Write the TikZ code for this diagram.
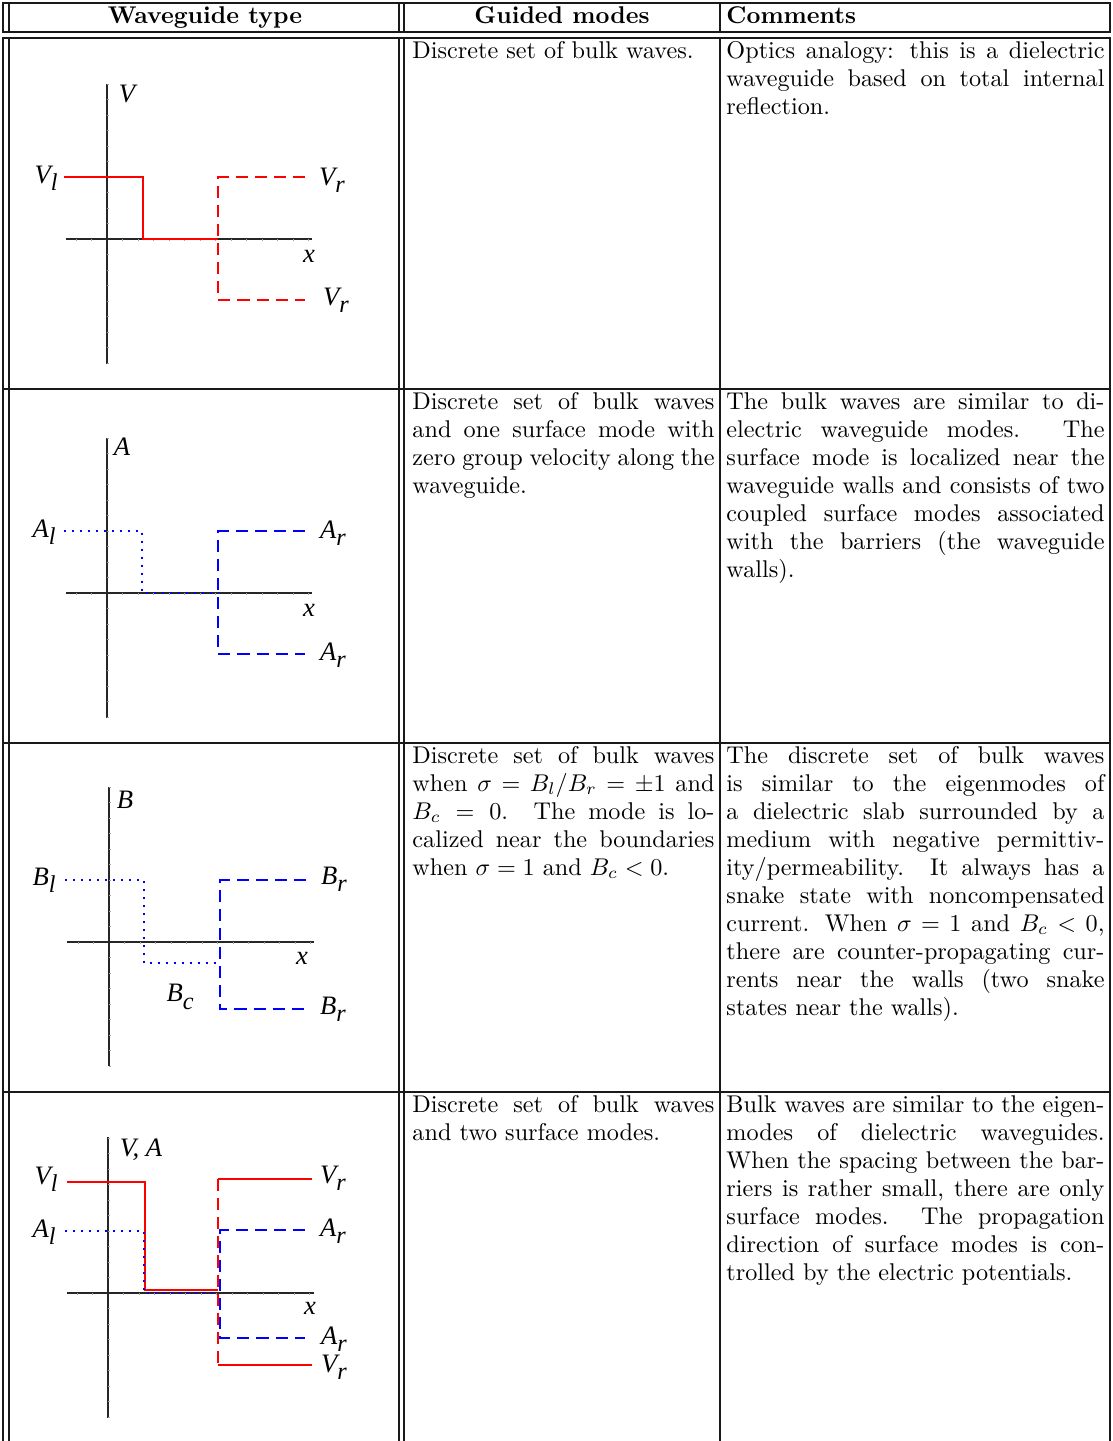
\documentclass[tikz,border=0pt]{standalone}
\usepackage{fontspec}
\newfontfamily\labfont{Liberation Serif}
\newcommand\labm[1]{{\labfont\itshape\fontsize{11}{12}\selectfont #1}}
\newcommand\lab[2]{\labm{#1}\raisebox{-3pt}{\labfont\itshape\fontsize{10}{11}\selectfont #2}}
\newcommand\axes[6]{%
  \draw[axis] (#1,#2) -- (#1,#3);
  \draw[axis] (#5,#4) -- (#6,#4);
  \foreach \k in {-10,...,-1,1,2,...,8} \draw[tickmk] (#1,{#4+15.5*\k}) -- ++(2,0);
  \foreach \k in {-2,-1,1,2,...,13} \draw[tickmk] ({#1+15.5*\k},#4) -- ++(0,2);
}
\newcommand\jpar[7]{%
  \foreach \t [count=\i] in {#5}{%
    \node[txt] (#1-\i) at (#2,{#3+28*(\i-1)}) {\makebox[#4][s]{\t}};
  }%
  \node[txt] (#1-last) at (#2,{#3+28*#6}) {#7};
}
\begin{document}
\begin{tikzpicture}[x=0.41322pt, y=-0.41322pt,
  rule/.style={line width=0.8pt, black!90, line cap=rect},
  rowrule/.style={line width=1.1pt, black!90, line cap=rect},
  axis/.style={line width=0.45pt, black!85},
  tickmk/.style={line width=0.25pt, black!35},
  solidred/.style={line width=1.1pt, red},
  dashred/.style={line width=1.1pt, red, dash pattern=on 5pt off 2.9pt},
  dashblue/.style={line width=1pt, blue, dash pattern=on 5pt off 2.9pt},
  dotblue/.style={line width=1pt, blue, dash pattern=on 0.9pt off 2.4pt},
  txt/.style={anchor=base west, inner sep=0pt, font=\fontsize{10}{11.57}\selectfont},
  hdr/.style={anchor=base, inner sep=0pt, font=\bfseries},
  lbl/.style={inner sep=0pt},
]
\useasboundingbox (0,0) rectangle (1112,1441);

% ---------- table rules ----------
\draw[rule] (3,3) -- (1110,3);
\draw[rule] (3,32) -- (1110,32);
\draw[rule] (3,38) -- (1110,38);
\foreach \yy in {389,743,1092} \draw[rowrule] (3,\yy) -- (1110,\yy);
\foreach \xx in {3,9,399,404,720,1110} {
  \draw[rule] (\xx,3) -- (\xx,32);
  \draw[rule] (\xx,38) -- (\xx,1441);
}

% ---------- header ----------
\node[hdr] (h1) at (205,23) {Waveguide type};
\node[hdr] (h2) at (562,23) {Guided modes};
\node[hdr, anchor=base west] (h3) at (726,23) {Comments};

% ---------- plot 1 ----------
\axes{107}{84}{364}{239}{66}{312}
\draw[solidred] (64,177) -- (143,177) -- (143,239) -- (218,239);
\draw[dashred] (305,177) -- (218,177) -- (218,300) -- (305,300);
\node[lbl] (p1V) at (127,94) {\labm{V}};
\node[lbl] (p1Vl) at (46,178) {\lab{V}{l}};
\node[lbl] (p1Vr1) at (332,180) {\lab{V}{r}};
\node[lbl] (p1x) at (309,256) {\labm{x}};
\node[lbl] (p1Vr2) at (336,300) {\lab{V}{r}};

% ---------- plot 2 ----------
\axes{107}{438}{718}{593}{66}{312}
\draw[dotblue] (64,531) -- (142,531) -- (142,593) -- (218,593);
\draw[dashblue] (305,531) -- (218,531) -- (218,654) -- (305,654);
\node[lbl] (p2A) at (122,447) {\labm{A}};
\node[lbl] (p2Al) at (44,532) {\lab{A}{l}};
\node[lbl] (p2Ar1) at (333,533) {\lab{A}{r}};
\node[lbl] (p2x) at (309,610) {\labm{x}};
\node[lbl] (p2Ar2) at (333,655) {\lab{A}{r}};

% ---------- plot 3 ----------
\axes{109}{787}{1066}{942}{67}{314}
\draw[dotblue] (65,880) -- (144,880) -- (144,963) -- (220,963);
\draw[dashblue] (306,880) -- (220,880) -- (220,1009) -- (306,1009);
\node[lbl] (p3B) at (125,800) {\labm{B}};
\node[lbl] (p3Bl) at (44,880) {\lab{B}{l}};
\node[lbl] (p3Br1) at (334,879) {\lab{B}{r}};
\node[lbl] (p3x) at (302,958) {\labm{x}};
\node[lbl] (p3Bc) at (180,997) {\lab{B}{c}};
\node[lbl] (p3Br2) at (333,1009) {\lab{B}{r}};

% ---------- plot 4 ----------
\axes{108}{1137}{1418}{1293}{67}{314}
\draw[solidred] (67,1182) -- (145,1182) -- (145,1290) -- (218,1290);
\draw[dashred] (218,1179) -- (218,1365);
\draw[solidred] (218,1179) -- (312,1179);
\draw[solidred] (218,1365) -- (312,1365);
\draw[dotblue] (65,1231) -- (144,1231) -- (144,1293) -- (218,1293);
\draw[dashblue] (305,1230) -- (220,1230) -- (220,1338) -- (305,1338);
\node[lbl] (p4VA) at (141,1150) {\labm{V, A}};
\node[lbl] (p4Vl) at (46,1179) {\lab{V}{l}};
\node[lbl] (p4Al) at (44,1232) {\lab{A}{l}};
\node[lbl] (p4Vr1) at (333,1178) {\lab{V}{r}};
\node[lbl] (p4Ar1) at (333,1231) {\lab{A}{r}};
\node[lbl] (p4x) at (310,1308) {\labm{x}};
\node[lbl] (p4Ar2) at (334,1339) {\lab{A}{r}};
\node[lbl] (p4Vr2) at (334,1367) {\lab{V}{r}};

% ---------- text, column 2 ----------
\node[txt] (g1) at (412,58) {Discrete set of bulk waves.};
\jpar{g2}{412}{409}{124.8pt}{{Discrete set of bulk waves},{and one surface mode with},{zero group velocity along the}}{3}{waveguide.}
\jpar{g3}{412}{763}{124.8pt}{{Discrete set of bulk waves},{when $\sigma=B_l/B_r=\pm1$ and},{$B_c = 0$.  The mode is lo-},{calized near the boundaries}}{4}{when $\sigma=1$ and $B_c<0$.}
\jpar{g4}{412}{1112}{124.8pt}{{Discrete set of bulk waves}}{1}{and two surface modes.}

% ---------- text, column 3 ----------
\jpar{c1}{726}{58}{156.2pt}{{Optics analogy: this is a dielectric},{waveguide based on total internal}}{2}{reflection.}
\jpar{c2}{726}{409}{156.2pt}{{The bulk waves are similar to di-},{electric waveguide modes.  The},{surface mode is localized near the},{waveguide walls and consists of two},{coupled surface modes associated},{with the barriers (the waveguide}}{6}{walls).}
\jpar{c3}{726}{763}{156.2pt}{{The discrete set of bulk waves},{is similar to the eigenmodes of},{a dielectric slab surrounded by a},{medium with negative permittiv-},{ity/permeability.  It always has a},{snake state with noncompensated},{current.  When $\sigma=1$ and $B_c<0$,},{there are counter-propagating cur-},{rents near the walls (two snake}}{9}{states near the walls).}
\jpar{c4}{726}{1112}{156.2pt}{{Bulk waves are similar to the eigen-},{modes of dielectric waveguides.},{When the spacing between the bar-},{riers is rather small, there are only},{surface modes.  The propagation},{direction of surface modes is con-}}{6}{trolled by the electric potentials.}
\end{tikzpicture}
\end{document}
